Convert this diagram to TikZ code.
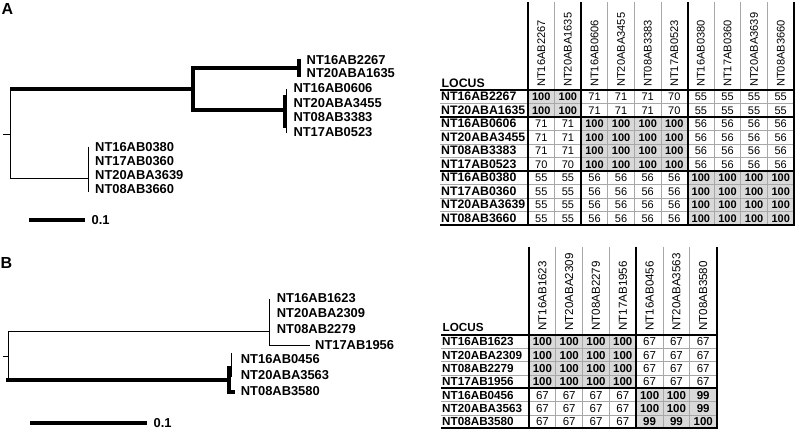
\documentclass[tikz,border=0pt]{standalone}
\usepackage{fontspec}
\setmainfont{Liberation Sans}
\definecolor{cellshade}{gray}{0.85}
\definecolor{gridgray}{gray}{0.66}
\begin{document}
\begin{tikzpicture}[x=1pt,y=-1pt,
  thinbranch/.style={line width=0.9pt, black},
  thickbranch/.style={line width=4pt, black},
  barbranch/.style={line width=3.5pt, black},
  treelab/.style={anchor=west, inner sep=0pt, font=\bfseries\fontsize{12.9}{14}\selectfont},
  panel/.style={inner sep=0pt, font=\bfseries\fontsize{16}{18}\selectfont},
  gridline/.style={line width=0.8pt, gridgray},
  blockline/.style={line width=1.8pt, black},
  hdrA/.style={rotate=90, anchor=west, inner sep=0pt, font=\fontsize{11.1}{12}\selectfont},
  rowA/.style={anchor=west, inner sep=0pt, font=\bfseries\fontsize{12.3}{13}\selectfont},
  cellA/.style={inner sep=0pt, font=\fontsize{11}{12}\selectfont},
  hdrB/.style={rotate=90, anchor=west, inner sep=0pt, font=\fontsize{11.6}{12}\selectfont},
  rowB/.style={anchor=west, inner sep=0pt, font=\bfseries\fontsize{11.7}{13}\selectfont},
  cellB/.style={inner sep=0pt, font=\fontsize{11.5}{12}\selectfont}]
\useasboundingbox (0,0) rectangle (796,431);

% ---------------- Panel labels
\node[panel] (pA) at (7.5,8.5) {A};
\node[panel] (pB) at (6.5,263) {B};

% ---------------- Tree A
\coordinate (aR0) at (3,134);
\coordinate (aR) at (10,134);
\coordinate (aTop) at (10,89.3);
\coordinate (aBot) at (10,178.3);
\coordinate (aN1) at (192.7,89.3);
\coordinate (aN1t) at (192.7,67.7);
\coordinate (aN1b) at (192.7,110);
\coordinate (aU) at (299,67.7);
\coordinate (aL) at (285,110);
\coordinate (aN2) at (88.3,178.3);
\draw[thinbranch] (aR0) -- (aR);
\draw[thinbranch] (aTop) -- (aBot);
\draw[thickbranch] (aTop) -- (aN1);
\draw[thickbranch] (aU) -- (aN1t) -- (aN1b) -- (aL);
\draw[barbranch] (299,58.5) -- (299,77);
\draw[thinbranch] (286,89.3) -- (286,133);
\draw[barbranch] (285,95) -- (285,127.5);
\draw[thinbranch] (aBot) -- (aN2);
\draw[thinbranch] (88.3,146.7) -- (88.3,191.7);
\node[treelab] (ta1) at (306.5,60) {NT16AB2267};
\node[treelab] (ta2) at (306.5,73.3) {NT20ABA1635};
\node[treelab] (ta3) at (293.3,88.3) {NT16AB0606};
\node[treelab] (ta4) at (293.3,102.7) {NT20ABA3455};
\node[treelab] (ta5) at (293.3,117.2) {NT08AB3383};
\node[treelab] (ta6) at (293.3,131.6) {NT17AB0523};
\node[treelab] (ta7) at (95,146.7) {NT16AB0380};
\node[treelab] (ta8) at (95,161) {NT17AB0360};
\node[treelab] (ta9) at (95,175.3) {NT20ABA3639};
\node[treelab] (ta10) at (95,189.5) {NT08AB3660};
\coordinate (sA1) at (29.3,220);
\coordinate (sA2) at (85,220);
\draw[thickbranch] (sA1) -- (sA2);
\node[treelab] (sAl) at (91.5,220) {0.1};

% ---------------- Tree B
\coordinate (bR0) at (2.7,356);
\coordinate (bR) at (8.3,356);
\coordinate (bTop) at (8.3,331.7);
\coordinate (bBot) at (8.3,380);
\coordinate (bN1) at (269.3,331.7);
\coordinate (bN1t) at (269.3,299.3);
\coordinate (bN1b) at (269.3,345);
\coordinate (bL4) at (310,345);
\coordinate (bN2) at (228.8,380);
\draw[thinbranch] (bR0) -- (bR);
\draw[thinbranch] (bTop) -- (bBot);
\draw[thinbranch] (bTop) -- (bN1);
\draw[thinbranch] (bN1t) -- (bN1b) -- (bL4);
\draw[thickbranch] (6.3,380) -- (bN2);
\draw[thickbranch] (228.8,366) -- (228.8,392.3) -- (235,392.3);
\draw[thinbranch] (231,353.3) -- (231,376.7);
\node[treelab] (tb1) at (276.7,298.3) {NT16AB1623};
\node[treelab] (tb2) at (276.7,313.5) {NT20ABA2309};
\node[treelab] (tb3) at (276.7,329) {NT08AB2279};
\node[treelab] (tb4) at (315,345.3) {NT17AB1956};
\node[treelab] (tb5) at (240.7,359.3) {NT16AB0456};
\node[treelab] (tb6) at (240.7,375.5) {NT20ABA3563};
\node[treelab] (tb7) at (240.7,391) {NT08AB3580};
\coordinate (sB1) at (30,422.7);
\coordinate (sB2) at (146.7,422.7);
\draw[thickbranch] (sB1) -- (sB2);
\node[treelab] (sBl) at (153.5,422.7) {0.1};

% ---------------- Matrix A
\fill[cellshade] (528,90) rectangle (581.2,117);
\fill[cellshade] (581.2,117) rectangle (687.6,171);
\fill[cellshade] (687.6,171) rectangle (794,225);
\foreach \i in {1,...,9} \draw[gridline] ({528+\i*26.6},2) -- ({528+\i*26.6},225);
\foreach \j in {1,...,9} \draw[gridline] (440,{90+\j*13.5}) -- (794,{90+\j*13.5});
\node[rowA, anchor=base west] (locA) at (441.5,87.5) {LOCUS};
\foreach \lab [count=\c] in {NT16AB2267,NT20ABA1635,NT16AB0606,NT20ABA3455,NT08AB3383,NT17AB0523,NT16AB0380,NT17AB0360,NT20ABA3639,NT08AB3660}
  \node[hdrA] (hA\c) at ({528+(\c-0.5)*26.6},87) {\lab};
\foreach \lab/\vals [count=\r] in {
  NT16AB2267/{100,100,71,71,71,70,55,55,55,55},
  NT20ABA1635/{100,100,71,71,71,70,55,55,55,55},
  NT16AB0606/{71,71,100,100,100,100,56,56,56,56},
  NT20ABA3455/{71,71,100,100,100,100,56,56,56,56},
  NT08AB3383/{71,71,100,100,100,100,56,56,56,56},
  NT17AB0523/{70,70,100,100,100,100,56,56,56,56},
  NT16AB0380/{55,55,56,56,56,56,100,100,100,100},
  NT17AB0360/{55,55,56,56,56,56,100,100,100,100},
  NT20ABA3639/{55,55,56,56,56,56,100,100,100,100},
  NT08AB3660/{55,55,56,56,56,56,100,100,100,100}} {
  \node[rowA] (rA\r) at (441,{90+(\r-0.5)*13.5}) {\lab};
  \foreach \v [count=\c] in \vals
    \node[cellA] (cA\r-\c) at ({528+(\c-0.5)*26.6},{90.3+(\r-0.5)*13.5}) {\ifnum\v>98 \bfseries\fi\v};
}
\foreach \y in {90,117,171,225} \draw[blockline] (440,\y) -- (794.9,\y);
\foreach \x in {528,581.2,687.6,794} \draw[blockline] (\x,2) -- (\x,225);

% ---------------- Matrix B
\fill[cellshade] (529,335) rectangle (636.2,388.3);
\fill[cellshade] (636.2,388.3) rectangle (716.6,428.3);
\foreach \i in {1,...,6} \draw[gridline] ({529+\i*26.8},246.5) -- ({529+\i*26.8},428.3);
\foreach \j in {1,...,6} \draw[gridline] (441,{335+\j*13.33}) -- (716.6,{335+\j*13.33});
\node[rowB, anchor=base west] (locB) at (442.5,331) {LOCUS};
\foreach \lab [count=\c] in {NT16AB1623,NT20ABA2309,NT08AB2279,NT17AB1956,NT16AB0456,NT20ABA3563,NT08AB3580}
  \node[hdrB] (hB\c) at ({529+(\c-0.5)*26.8},331) {\lab};
\foreach \lab/\vals [count=\r] in {
  NT16AB1623/{100,100,100,100,67,67,67},
  NT20ABA2309/{100,100,100,100,67,67,67},
  NT08AB2279/{100,100,100,100,67,67,67},
  NT17AB1956/{100,100,100,100,67,67,67},
  NT16AB0456/{67,67,67,67,100,100,99},
  NT20ABA3563/{67,67,67,67,100,100,99},
  NT08AB3580/{67,67,67,67,99,99,100}} {
  \node[rowB] (rB\r) at (442,{335+(\r-0.5)*13.33}) {\lab};
  \foreach \v [count=\c] in \vals
    \node[cellB] (cB\r-\c) at ({529+(\c-0.5)*26.8},{335.3+(\r-0.5)*13.33}) {\ifnum\v>98 \bfseries\fi\v};
}
\foreach \y in {335,388.3,428.3} \draw[blockline] (441,\y) -- (717.5,\y);
\foreach \x in {529,636.2,716.6} \draw[blockline] (\x,246.5) -- (\x,428.3);
\end{tikzpicture}
\end{document}
